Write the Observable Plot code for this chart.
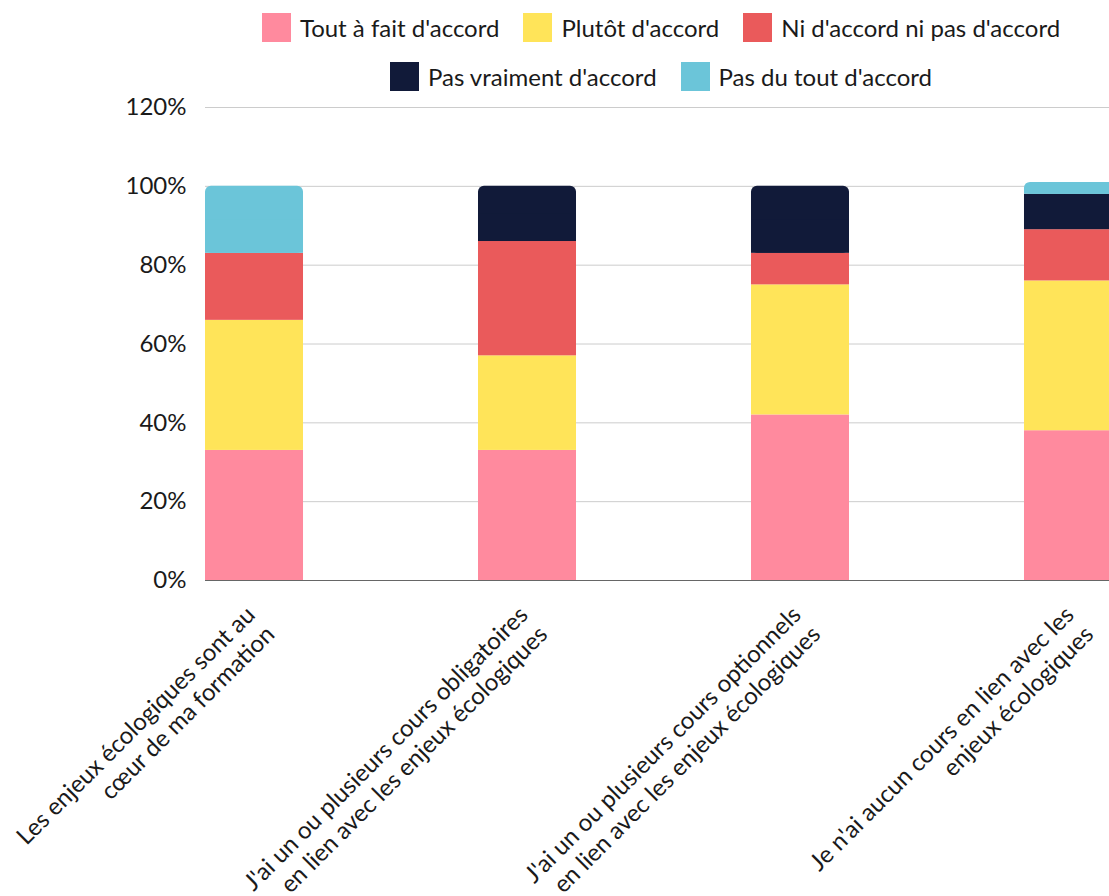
<!DOCTYPE html>
<html>
<head>
<meta charset="utf-8">
<script src="https://cdn.jsdelivr.net/npm/d3@7"></script>
<script src="https://cdn.jsdelivr.net/npm/@observablehq/plot@0.6"></script>
<style>
  html, body { margin: 0; padding: 0; background: #fff; overflow: hidden; }
  body { font-family: Lato, "Noto Sans", sans-serif; color: #1a1a1a; width: 1109px; height: 896px; }
  #legend { height: 80px; width: 1322px; position: relative; padding-top: 3px; box-sizing: border-box; }
  .row { display: flex; justify-content: center; align-items: center; height: 49px; }
  .item { display: flex; align-items: center; margin: 0 12px; font-size: 24px; white-space: nowrap; }
  .sw { width: 29px; height: 29px; margin-right: 9px; }
</style>
</head>
<body>
<div id="legend"></div>
<div id="chart"></div>
<script>
const categories = [
  "Les enjeux écologiques sont au cœur de ma formation",
  "J'ai un ou plusieurs cours obligatoires en lien avec les enjeux écologiques",
  "J'ai un ou plusieurs cours optionnels en lien avec les enjeux écologiques",
  "Je n'ai aucun cours en lien avec les enjeux écologiques"
];
const xLabels = [
  "Les enjeux écologiques sont au\ncœur de ma formation",
  "J'ai un ou plusieurs cours obligatoires\nen lien avec les enjeux écologiques",
  "J'ai un ou plusieurs cours optionnels\nen lien avec les enjeux écologiques",
  "Je n'ai aucun cours en lien avec les\nenjeux écologiques"
];
const responses = [
  "Tout à fait d'accord",
  "Plutôt d'accord",
  "Ni d'accord ni pas d'accord",
  "Pas vraiment d'accord",
  "Pas du tout d'accord"
];
const colors = ["#FF8A9E", "#FFE459", "#EA5A5B", "#111A39", "#6BC5D9"];
const toutAFait   = [33, 33, 42, 38];
const plutot      = [33, 24, 33, 38];
const niNi        = [17, 29, 8, 13];
const pasVraiment = [0, 14, 17, 9];
const pasDuTout   = [17, 0, 0, 3];
const yTicks = [0, 20, 40, 60, 80, 100, 120];

const series = [toutAFait, plutot, niNi, pasVraiment, pasDuTout];

// Build stacked segments
const segs = [];
categories.forEach((c, i) => {
  let acc = 0;
  const list = [];
  series.forEach((s, k) => {
    const v = s[i];
    if (v > 0) {
      list.push({cat: c, resp: responses[k], y1: acc, y2: acc + v, top: false});
      acc += v;
    }
  });
  list[list.length - 1].top = true;
  segs.push(...list);
});
const normal = segs.filter(d => !d.top);
const tops = segs.filter(d => d.top);
const topsLower = tops.map(d => ({...d, y2: (d.y1 + d.y2) / 2}));

// Legend
const legend = document.getElementById("legend");
[[0, 1, 2], [3, 4]].forEach(idx => {
  const row = document.createElement("div");
  row.className = "row";
  idx.forEach(k => {
    const it = document.createElement("div");
    it.className = "item";
    const sw = document.createElement("span");
    sw.className = "sw";
    sw.style.background = colors[k];
    const t = document.createElement("span");
    t.textContent = responses[k];
    it.appendChild(sw); it.appendChild(t);
    row.appendChild(it);
  });
  legend.appendChild(row);
});

const colorScale = {domain: responses, range: colors};

const chart = Plot.plot({
  width: 1109,
  height: 816,
  marginTop: 27,
  marginBottom: 316,
  marginLeft: 205,
  marginRight: 0,
  style: {fontFamily: "Lato, 'Noto Sans', sans-serif", color: "#1a1a1a", overflow: "visible"},
  x: {type: "band", domain: categories, range: [205, 1122], paddingInner: 0.641, paddingOuter: 0, round: false, axis: null},
  y: {domain: [0, 120], axis: null},
  color: colorScale,
  marks: [
    Plot.ruleY(yTicks.filter(d => d > 0), {stroke: "#cccccc", strokeWidth: 1}),
    Plot.barY(normal, {x: "cat", y1: "y1", y2: "y2", fill: "resp"}),
    Plot.barY(tops, {x: "cat", y1: "y1", y2: "y2", fill: "resp", rx: 6}),
    Plot.barY(topsLower, {x: "cat", y1: "y1", y2: "y2", fill: "resp"}),
    Plot.ruleY([0], {stroke: "#666", strokeWidth: 1}),
    Plot.axisY({ticks: yTicks, tickSize: 0, tickPadding: 19, fontSize: 24, tickFormat: d => d + "%", fill: "#1a1a1a"}),
    Plot.text(categories, {
      x: d => d,
      text: (d, i) => xLabels[i],
      frameAnchor: "bottom",
      rotate: -45,
      textAnchor: "end",
      lineAnchor: "top",
      lineHeight: 1.15,
      dx: -12,
      dy: 22,
      fontSize: 24,
      fill: "#1a1a1a"
    })
  ]
});
document.getElementById("chart").appendChild(chart);
</script>
</body>
</html>
